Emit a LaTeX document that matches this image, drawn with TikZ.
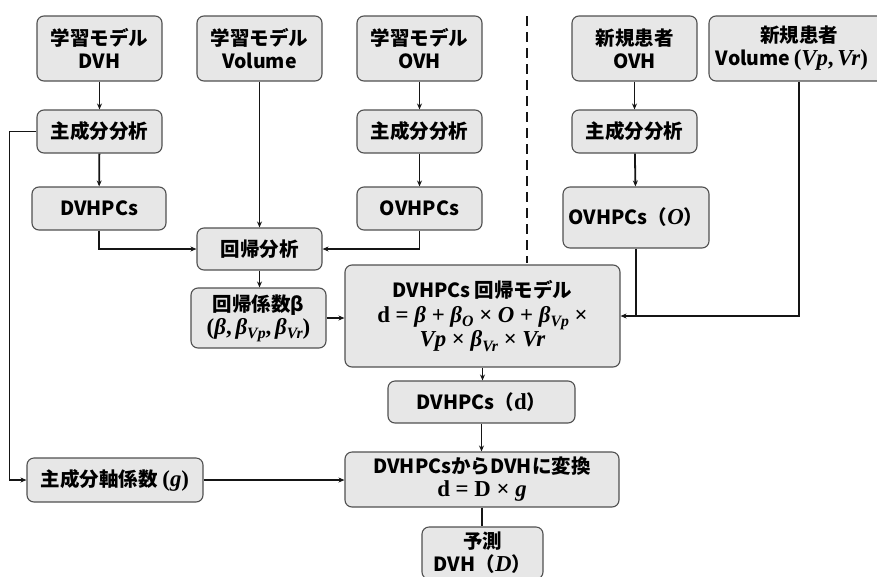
\documentclass[tikz,border=0pt]{standalone}
\usepackage[no-math]{fontspec}
\newfontfamily\jp{Noto Sans CJK JP}
\newfontfamily\mf{Liberation Serif}[Scale=1.17]
\usetikzlibrary{arrows.meta}
\definecolor{boxfill}{HTML}{E7E7E7}
\definecolor{boxline}{HTML}{505050}
\definecolor{conn}{HTML}{151515}
\newcommand{\fm}[1]{{\mf\bfseries #1}}
\newcommand{\iv}[1]{\textit{#1}}
\newcommand{\lowsub}[1]{\raisebox{-0.4ex}{\fontsize{13.5}{14}\selectfont\itshape #1}}
\begin{document}
\begin{tikzpicture}[x=1pt,y=-1pt,
 box/.style={draw=boxline, fill=boxfill, rounded corners=7pt, line width=1.1pt, align=center, inner sep=0pt, font=\jp\bfseries\fontsize{19.5}{23}\selectfont},
 arr/.style={draw=conn, line width=1.8pt, -{Stealth[length=6pt,width=5pt]}},
 ln/.style={draw=conn, line width=1.8pt}]
\useasboundingbox (0,0) rectangle (877,576);
% left column
\node[box, minimum width=125pt, minimum height=65pt] (l1) at (99.5,48.5) {学習モデル\\DVH};
\node[box, minimum width=125pt, minimum height=43pt] (l2) at (99.5,131.5) {主成分分析};
\node[box, minimum width=134pt, minimum height=43pt] (l3) at (99,208.5) {DVHPCs};
% volume column
\node[box, minimum width=125pt, minimum height=65pt] (v1) at (259.5,48.5) {学習モデル\\Volume};
\node[box, minimum width=125pt, minimum height=42pt] (reg) at (259.5,249) {回帰分析};
\node[box, minimum width=135pt, minimum height=60pt] (beta) at (258.5,318) {回帰係数β\\\fm{(\iv{β},\,\iv{β}\lowsub{Vp},\,\iv{β}\lowsub{Vr})}};
% OVH column
\node[box, minimum width=125pt, minimum height=65pt] (o1) at (419.5,48.5) {学習モデル\\OVH};
\node[box, minimum width=125pt, minimum height=43pt] (o2) at (419.5,131.5) {主成分分析};
\node[box, minimum width=125pt, minimum height=43pt] (o3) at (419.5,208.5) {OVHPCs};
% new patient
\node[box, minimum width=125pt, minimum height=65pt] (n1) at (634.5,48.5) {新規患者\\OVH};
\node[box, minimum width=180pt, minimum height=65pt] (n2) at (799,48.5) {新規患者\\\hspace*{-14pt}Volume\,\fm{(\iv{Vp},\,\iv{Vr})}};
\node[box, minimum width=125pt, minimum height=43pt] (n3) at (634.5,131.5) {主成分分析};
\node[box, minimum width=146pt, minimum height=61pt] (n4) at (636,217.5) {OVHPCs（\fm{\iv{O}}）};
% central chain
\node[box, minimum width=275pt, minimum height=102pt] (model) at (482.5,316) {DVHPCs 回帰モデル\\[2pt]\fm{d = \iv{β} + \iv{β}\lowsub{O} × \iv{O} + \iv{β}\lowsub{Vp} ×}\\\fm{\iv{Vp} × \iv{β}\lowsub{Vr} × \iv{Vr}}};
\node[box, minimum width=187pt, minimum height=42pt] (dd) at (481.5,402) {DVHPCs（\fm{d}）};
\node[box, minimum width=274pt, minimum height=55pt] (conv) at (482,479.5) {DVHPCsからDVHに変換\\\fm{d = D × \iv{g}}};
\node[box, minimum width=176pt, minimum height=44pt] (g) at (115,480) {主成分軸係数 \fm{(\iv{g})}};
\node[box, minimum width=121pt, minimum height=52pt] (pred) at (482.5,553) {予測\\DVH（\fm{\iv{D}}）};
% dashed separator
\coordinate (dtop) at (527,16);
\coordinate (dbot) at (527,263);
\draw[ln, dash pattern=on 10pt off 6pt] (dtop) -- (dbot);
% connectors
\draw[arr] (l1) -- (l2);
\draw[arr] (l2) -- (l3);
\draw[arr] (o1) -- (o2);
\draw[arr] (o2) -- (o3);
\draw[arr] (n1) -- (n3);
\draw[arr] (n3) -- (n4);
\draw[arr] (v1) -- (reg);
\draw[arr] (l3.south) |- (reg.west);
\draw[arr] (o3.south) |- (reg.east);
\draw[arr] (reg.south) -- (reg.south |- beta.north);
\draw[arr] (beta.east) -- (beta.east -| model.west);
\draw[ln] (n4.south) -- (n4.south |- model.east);
\draw[arr] (n2.south) |- (model.east);
\draw[arr] (model.south) -- (model.south |- dd.north);
\draw[arr] (dd.south) -- (dd.south |- conv.north);
\draw[ln] (conv.south) -- (conv.south |- pred.north);
\draw[arr] (l2.west) -- ++(-27,0) |- (g.west);
\draw[arr] (g.east) -- (g.east -| conv.west);
\end{tikzpicture}
\end{document}
